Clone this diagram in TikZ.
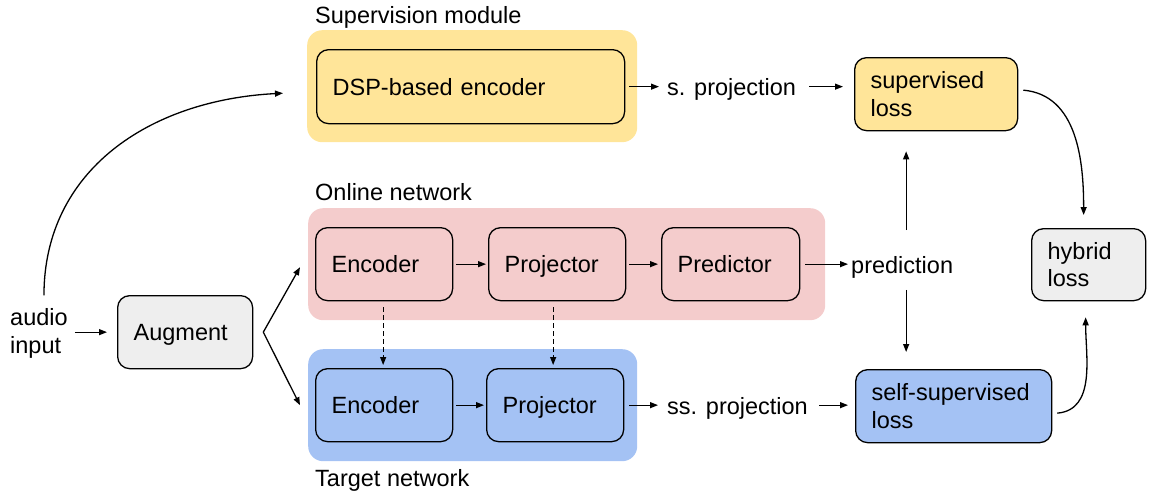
\documentclass[tikz,border=0pt]{standalone}
\usepackage{fontspec}
\setmainfont{Liberation Sans}
\usetikzlibrary{arrows.meta}
\definecolor{cyel}{HTML}{FFE599}
\definecolor{cpink}{HTML}{F4CCCC}
\definecolor{cblue}{HTML}{A4C2F4}
\definecolor{cgray}{HTML}{EEEEEE}
\newcommand\tstr{\rule[-5.4pt]{0pt}{27.5pt}}
\begin{document}
\begin{tikzpicture}[x=1pt,y=-1pt,
  every node/.style={font=\fontsize{23.5}{27.5}\selectfont},
  bg/.style={rounded corners=15pt, anchor=north west, inner sep=0pt},
  box/.style={draw, line width=1.3pt, rounded corners=12pt, anchor=north west, align=left,
    inner xsep=16pt, inner ysep=0pt, text width=#1, minimum height=73pt},
  lbl/.style={anchor=west, inner sep=0pt, align=left},
  arr/.style={line width=1.3pt, -{Triangle[length=8pt,width=6pt]}},
  darr/.style={arr, dashed, dash pattern=on 5pt off 3pt}]
\useasboundingbox (0,0) rectangle (1149,493);
% backgrounds
\node[bg, fill=cyel, minimum width=330pt, minimum height=112pt] (supbg) at (307,30) {};
\node[bg, fill=cpink, minimum width=517pt, minimum height=112pt] (onbg) at (308,208) {};
\node[bg, fill=cblue, minimum width=329pt, minimum height=112pt] (tgbg) at (308,349) {};
% group labels
\node[lbl] (lsup) at (315,15) {\tstr Supervision module};
\node[lbl] (lon) at (315,192) {\tstr Online network};
\node[lbl] (ltg) at (315,478) {\tstr Target network};
% boxes
\node[box=276pt, fill=cyel, minimum height=74pt] (dsp) at (316,49) {\tstr DSP-based encoder};
\node[box=131pt, fill=cyel] (suploss) at (854,57) {\tstr supervised\\loss\tstr};
\node[box=82pt, fill=cgray, minimum height=72pt] (hybrid) at (1031,228) {\tstr hybrid\\loss\tstr};
\node[box=105pt, fill=cpink] (enc1) at (315,227) {\tstr Encoder};
\node[box=105pt, fill=cpink] (proj1) at (488,227) {\tstr Projector};
\node[box=106pt, fill=cpink] (pred) at (661,227) {\tstr Predictor};
\node[box=105pt, fill=cblue] (enc2) at (315,368) {\tstr Encoder};
\node[box=105pt, fill=cblue] (proj2) at (486,368) {\tstr Projector};
\node[box=164pt, fill=cblue] (selfloss) at (855,369) {\tstr self-supervised\\loss\tstr};
\node[box=103pt, fill=cgray] (aug) at (117,295) {\tstr Augment};
% free text
\node[lbl] (audio) at (10,331) {\tstr audio\\input\tstr};
\node[lbl] (sproj) at (667,87) {\tstr s. projection};
\node[lbl] (prediction) at (851,265) {\tstr prediction};
\node[lbl] (ssproj) at (667,406) {\tstr ss. projection};
% arrows
\draw[arr, shorten <=7pt, shorten >=10pt] (aug.west -| audio.east) -- (aug.west);
\draw[arr, shorten <=8pt] ([xshift=5pt]audio.north) .. controls (44,170) and (150,100) .. ([xshift=-24pt,yshift=-7pt]supbg.west);
\draw[arr] ([xshift=10pt]aug.east) -- ([xshift=-8pt,yshift=-3pt]onbg.west);
\draw[arr] ([xshift=10pt]aug.east) -- ([xshift=-8pt]tgbg.west);
\draw[arr, shorten <=4pt, shorten >=8pt] (dsp.east) -- (dsp.east -| sproj.west);
\draw[arr, shorten <=13pt, shorten >=11pt] (sproj.east |- dsp.east) -- (suploss.west |- dsp.east);
\draw[arr, shorten <=3pt, shorten >=2pt] (enc1.east) -- (proj1.west);
\draw[arr, shorten <=3pt, shorten >=3pt] (proj1.east) -- (pred.west);
\draw[arr, shorten <=5pt, shorten >=3pt] (pred.east) -- (pred.east -| prediction.west);
\draw[arr, shorten <=3pt, shorten >=2pt] (enc2.east) -- (proj2.west);
\draw[arr, shorten <=5pt, shorten >=9pt] (proj2.east) -- (proj2.east -| ssproj.west);
\draw[arr, shorten <=11pt, shorten >=7pt] (ssproj.east |- proj2.east) -- (selfloss.west |- proj2.east);
\draw[arr, shorten <=21pt, shorten >=20pt] ([xshift=4pt]prediction.north) -- ([xshift=4pt]prediction.north |- suploss.south);
\draw[arr, shorten <=11pt, shorten >=17pt] ([xshift=4pt]prediction.south) -- ([xshift=4pt]prediction.south |- selfloss.north);
\draw[darr, shorten <=6pt, shorten >=3pt] ([xshift=-1pt]enc1.south) -- ([xshift=-1pt]enc2.north);
\draw[darr, shorten <=6pt, shorten >=3pt] ([xshift=-4pt]proj1.south) -- ([xshift=-4pt]proj1.south |- proj2.north);
\draw[arr] ([xshift=5pt,yshift=4pt]suploss.east) to[out=-5,in=90] ([xshift=-5pt,yshift=13pt]hybrid.north);
\draw[arr] ([xshift=5pt,yshift=-7pt]selfloss.east) to[out=5,in=-90] ([xshift=-3pt,yshift=-16pt]hybrid.south);
\end{tikzpicture}
\end{document}
